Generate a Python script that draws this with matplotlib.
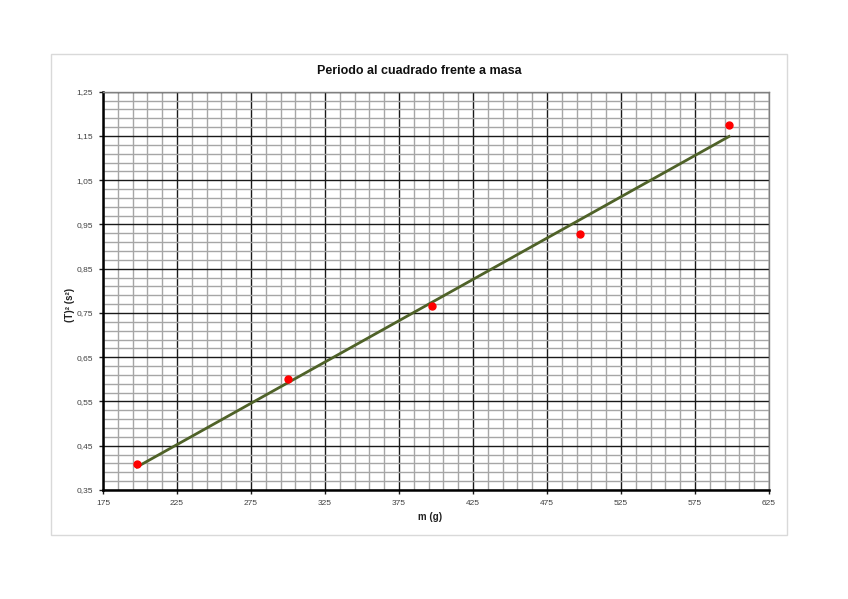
import numpy as np
import matplotlib
matplotlib.use("Agg")
import matplotlib.pyplot as plt
from matplotlib.patches import Rectangle
from matplotlib.ticker import FuncFormatter

plt.rcParams['font.family'] = ['Liberation Sans Narrow', 'Liberation Sans', 'DejaVu Sans']

# data
mass_g = [198, 300, 397, 497, 598]
period_sq = [0.408, 0.6015, 0.765, 0.928, 1.175]

x_major = [175, 225, 275, 325, 375, 425, 475, 525, 575, 625]
y_major = [0.35, 0.45, 0.55, 0.65, 0.75, 0.85, 0.95, 1.05, 1.15, 1.25]

# linear trendline
slope, intercept = np.polyfit(mass_g, period_sq, 1)
fit_x = np.array([min(mass_g), max(mass_g)])
fit_y = slope * fit_x + intercept

W, H = 848, 599
fig = plt.figure(figsize=(W / 100, H / 100), dpi=100)

# light frame around the chart area
fig.patches.append(Rectangle((51 / W, 1 - 535 / H), (787 - 51) / W, (535 - 54) / H,
                             transform=fig.transFigure, fill=False,
                             edgecolor="#d9d9d9", linewidth=1.0))

ax = fig.add_axes([103 / W, 1 - 490 / H, (769 - 103) / W, (490 - 91.7) / H])

ax.set_xlim(x_major[0], x_major[-1])
ax.set_ylim(y_major[0], y_major[-1])
ax.set_xticks(x_major)
ax.set_yticks(y_major)
ax.set_xticks(np.arange(x_major[0], x_major[-1] + 1, 10), minor=True)
ax.set_yticks(np.linspace(y_major[0], y_major[-1], 46), minor=True)

ax.grid(which="minor", color="#a6a6a6", linewidth=1.0)
ax.grid(which="major", color="#1a1a1a", linewidth=1.0)
ax.set_axisbelow(True)

ax.plot(fit_x, fit_y, color="#4f6228", linewidth=2.0, zorder=3)
ax.plot(mass_g, period_sq, "o", color="#ff0000", markersize=5, zorder=4)

ax.yaxis.set_major_formatter(FuncFormatter(lambda v, p: f"{v:.2f}".replace(".", ",")))
ax.xaxis.set_major_formatter(FuncFormatter(lambda v, p: f"{v:.0f}"))
ax.tick_params(which="major", direction="out", length=3, width=1.0, labelsize=6,
               colors="#1a1a1a", labelcolor="#404040", pad=4)
ax.tick_params(which="minor", length=0)

for side in ["top", "right"]:
    ax.spines[side].set_color("#808080")
    ax.spines[side].set_linewidth(1.0)
for side in ["left", "bottom"]:
    ax.spines[side].set_color("#000000")
    ax.spines[side].set_linewidth(1.8)

fig.text(419 / W, 1 - 71 / H, "Periodo al cuadrado frente a masa",
         ha="center", va="center", fontsize=9, fontweight="bold", color="#111111")
fig.text(430 / W, 1 - 517 / H, "m (g)", ha="center", va="center",
         fontsize=7, fontweight="bold", color="#222222")
fig.text(70 / W, 1 - 305 / H, "(T)² (s²)", ha="center", va="center",
         fontsize=7, fontweight="bold", rotation=90, color="#222222")

fig.savefig("out.png", dpi=100)
